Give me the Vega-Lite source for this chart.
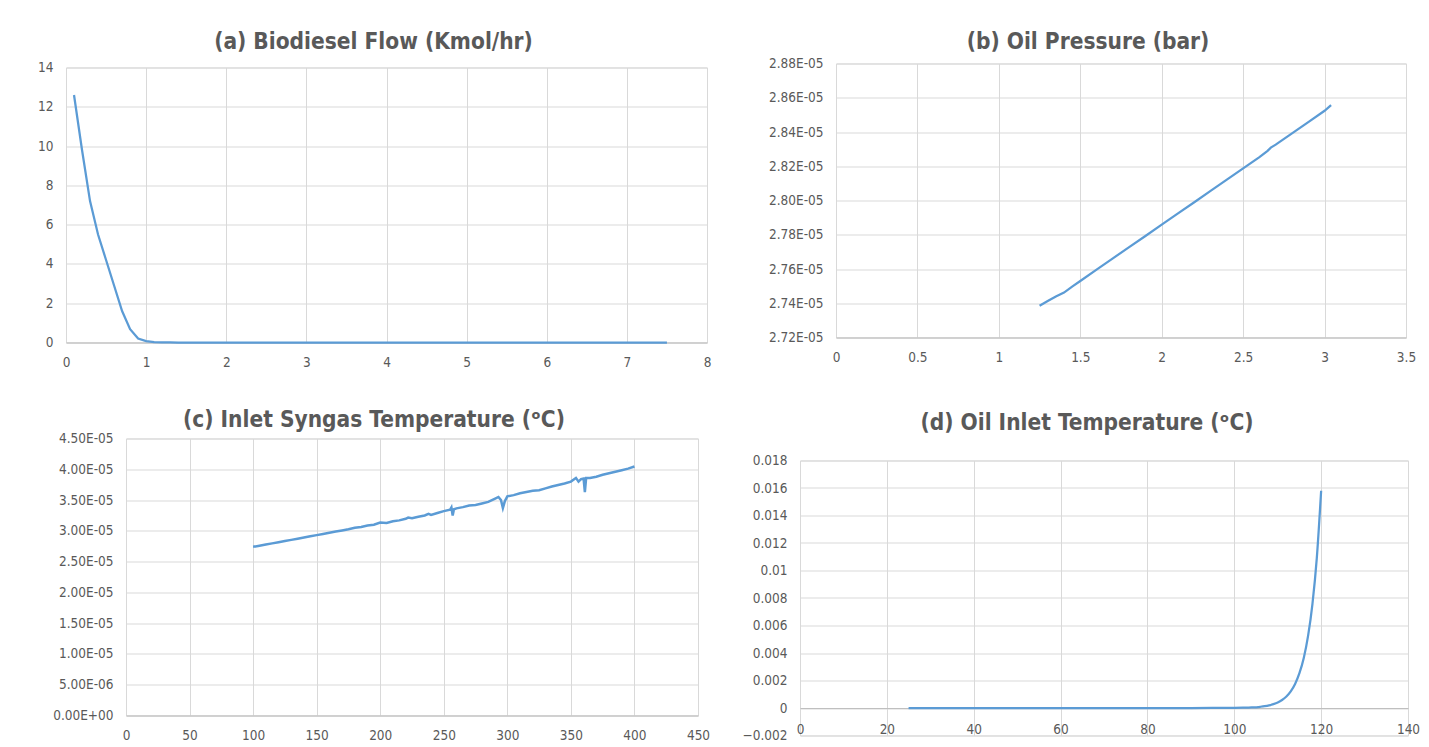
{
  "$schema": "https://vega.github.io/schema/vega-lite/v6.json",
  "background": "white",
  "padding": {"left": 9, "top": 9.5, "right": 0, "bottom": 0},
  "config": {
    "font": "Liberation Sans Narrow, DejaVu Sans Condensed, Liberation Sans",
    "view": {"stroke": "#d9d9d9"},
    "axis": {"gridColor": "#d9d9d9", "labelColor": "#595959", "labelFontSize": 13.5, "ticks": false, "title": null, "labelFont": "Liberation Sans Narrow, DejaVu Sans Condensed, Liberation Sans"},
    "axisX": {"domain": true, "domainColor": "#bfbfbf", "labelPadding": 13, "labelFlush": false},
    "axisY": {"domain": false, "labelPadding": 13},
    "title": {"font": "Liberation Sans Narrow, DejaVu Sans Condensed, Liberation Sans", "fontSize": 22.5, "fontWeight": "bold", "color": "#595959"},
    "line": {"color": "#5b9bd5", "strokeWidth": 2.25}
  },
  "datasets": {
    "empty": [],
    "biodiesel": [
      {"x": 0.1, "y": 12.6}, {"x": 0.2, "y": 9.8}, {"x": 0.3, "y": 7.2}, {"x": 0.4, "y": 5.5},
      {"x": 0.5, "y": 4.2}, {"x": 0.6, "y": 2.9}, {"x": 0.7, "y": 1.6}, {"x": 0.8, "y": 0.68},
      {"x": 0.9, "y": 0.2}, {"x": 1.0, "y": 0.07}, {"x": 1.1, "y": 0.02}, {"x": 1.2, "y": 0.005},
      {"x": 1.3, "y": 0.001}, {"x": 1.4, "y": 0}, {"x": 1.5, "y": 0}, {"x": 2.0, "y": 0},
      {"x": 2.5, "y": 0}, {"x": 3.0, "y": 0}, {"x": 3.5, "y": 0}, {"x": 4.0, "y": 0},
      {"x": 4.5, "y": 0}, {"x": 5.0, "y": 0}, {"x": 5.5, "y": 0}, {"x": 6.0, "y": 0},
      {"x": 6.5, "y": 0}, {"x": 7.0, "y": 0}, {"x": 7.5, "y": 0}
    ],
    "pressure": [
      {"x": 1.25, "y": 2.7385e-5}, {"x": 1.3, "y": 2.7413e-5}, {"x": 1.35, "y": 2.744e-5},
      {"x": 1.4, "y": 2.7462e-5}, {"x": 1.45, "y": 2.7497e-5}, {"x": 1.5, "y": 2.753e-5},
      {"x": 1.6, "y": 2.7596e-5}, {"x": 1.7, "y": 2.7662e-5}, {"x": 1.8, "y": 2.7728e-5},
      {"x": 1.9, "y": 2.7793e-5}, {"x": 2.0, "y": 2.7859e-5}, {"x": 2.1, "y": 2.7925e-5},
      {"x": 2.2, "y": 2.799e-5}, {"x": 2.3, "y": 2.8056e-5}, {"x": 2.4, "y": 2.8122e-5},
      {"x": 2.5, "y": 2.8188e-5}, {"x": 2.6, "y": 2.8253e-5}, {"x": 2.65, "y": 2.829e-5},
      {"x": 2.67, "y": 2.8309e-5}, {"x": 2.7, "y": 2.8326e-5}, {"x": 2.8, "y": 2.8392e-5},
      {"x": 2.9, "y": 2.8458e-5}, {"x": 3.0, "y": 2.8524e-5}, {"x": 3.04, "y": 2.8557e-5}
    ],
    "syngas": [
      {"x": 100, "y": 2.74e-5}, {"x": 105, "y": 2.758e-5}, {"x": 110, "y": 2.777e-5}, {"x": 115, "y": 2.796e-5},
      {"x": 120, "y": 2.815e-5}, {"x": 125, "y": 2.834e-5}, {"x": 130, "y": 2.853e-5}, {"x": 135, "y": 2.872e-5},
      {"x": 140, "y": 2.891e-5}, {"x": 145, "y": 2.911e-5}, {"x": 150, "y": 2.93e-5}, {"x": 155, "y": 2.949e-5},
      {"x": 160, "y": 2.968e-5}, {"x": 165, "y": 2.988e-5}, {"x": 170, "y": 3.007e-5}, {"x": 175, "y": 3.027e-5},
      {"x": 180, "y": 3.05e-5}, {"x": 185, "y": 3.062e-5}, {"x": 190, "y": 3.085e-5}, {"x": 195, "y": 3.1e-5},
      {"x": 200, "y": 3.135e-5}, {"x": 205, "y": 3.128e-5}, {"x": 210, "y": 3.155e-5}, {"x": 215, "y": 3.17e-5},
      {"x": 220, "y": 3.195e-5}, {"x": 222, "y": 3.215e-5}, {"x": 225, "y": 3.205e-5}, {"x": 230, "y": 3.23e-5},
      {"x": 235, "y": 3.25e-5}, {"x": 238, "y": 3.275e-5}, {"x": 240, "y": 3.258e-5}, {"x": 245, "y": 3.29e-5},
      {"x": 250, "y": 3.32e-5}, {"x": 255, "y": 3.345e-5}, {"x": 256, "y": 3.38e-5}, {"x": 257, "y": 3.25e-5},
      {"x": 258, "y": 3.35e-5}, {"x": 260, "y": 3.365e-5}, {"x": 265, "y": 3.385e-5}, {"x": 270, "y": 3.41e-5},
      {"x": 275, "y": 3.42e-5}, {"x": 280, "y": 3.445e-5}, {"x": 285, "y": 3.47e-5}, {"x": 290, "y": 3.52e-5},
      {"x": 293, "y": 3.55e-5}, {"x": 295, "y": 3.5e-5}, {"x": 296.5, "y": 3.37e-5}, {"x": 298, "y": 3.48e-5},
      {"x": 300, "y": 3.56e-5}, {"x": 305, "y": 3.58e-5}, {"x": 310, "y": 3.61e-5}, {"x": 315, "y": 3.63e-5},
      {"x": 320, "y": 3.65e-5}, {"x": 325, "y": 3.66e-5}, {"x": 330, "y": 3.69e-5}, {"x": 335, "y": 3.72e-5},
      {"x": 340, "y": 3.745e-5}, {"x": 345, "y": 3.77e-5}, {"x": 350, "y": 3.8e-5}, {"x": 352, "y": 3.83e-5},
      {"x": 354, "y": 3.86e-5}, {"x": 356, "y": 3.8e-5}, {"x": 358, "y": 3.84e-5}, {"x": 360, "y": 3.85e-5},
      {"x": 361, "y": 3.63e-5}, {"x": 362, "y": 3.86e-5}, {"x": 365, "y": 3.86e-5}, {"x": 370, "y": 3.88e-5},
      {"x": 375, "y": 3.91e-5}, {"x": 380, "y": 3.935e-5}, {"x": 385, "y": 3.96e-5}, {"x": 390, "y": 3.985e-5},
      {"x": 395, "y": 4.01e-5}, {"x": 400, "y": 4.045e-5}
    ],
    "oiltemp": [
      {"x": 25, "y": 0}, {"x": 30, "y": 0}, {"x": 35, "y": 0}, {"x": 40, "y": 0}, {"x": 45, "y": 0},
      {"x": 50, "y": 0}, {"x": 55, "y": 0}, {"x": 60, "y": 0}, {"x": 65, "y": 0}, {"x": 70, "y": 0},
      {"x": 75, "y": 0}, {"x": 80, "y": 0}, {"x": 85, "y": 0}, {"x": 90, "y": 0}, {"x": 95, "y": 0.000002},
      {"x": 100, "y": 0.00001}, {"x": 102, "y": 0.00002}, {"x": 104, "y": 0.00004}, {"x": 106, "y": 0.00009},
      {"x": 107, "y": 0.00013}, {"x": 108, "y": 0.00019}, {"x": 109, "y": 0.00028}, {"x": 110, "y": 0.0004},
      {"x": 111, "y": 0.00058}, {"x": 112, "y": 0.00084}, {"x": 113, "y": 0.00121}, {"x": 114, "y": 0.00175},
      {"x": 115, "y": 0.00253}, {"x": 116, "y": 0.00364}, {"x": 117, "y": 0.00526}, {"x": 118, "y": 0.00758},
      {"x": 119, "y": 0.0109}, {"x": 120, "y": 0.0158}
    ]
  },
  "spacing": 10,
  "hconcat": [
    {
      "spacing": 20,
      "vconcat": [
        {"width": 1, "height": 1, "view": {"stroke": null}, "data": {"name": "empty"}, "mark": "point"},
        {
          "spacing": 0,
          "hconcat": [
            {"width": 1, "height": 1, "view": {"stroke": null}, "data": {"name": "empty"}, "mark": "point"},
            {
              "title": {"text": "(a) Biodiesel Flow (Kmol/hr)", "offset": 6.8, "dx": -13},
              "width": 641, "height": 275,
              "data": {"name": "biodiesel"},
              "mark": {"type": "line"},
              "encoding": {
                "x": {"field": "x", "type": "quantitative", "scale": {"domain": [0, 8], "nice": false}, "axis": {"values": [0, 1, 2, 3, 4, 5, 6, 7, 8], "minExtent": 45}},
                "y": {"field": "y", "type": "quantitative", "scale": {"domain": [0, 14], "nice": false}, "axis": {"values": [0, 2, 4, 6, 8, 10, 12, 14], "minExtent": 55}}
              }
            }
          ]
        },
        {
          "spacing": 0,
          "hconcat": [
            {"width": 1, "height": 1, "view": {"stroke": null}, "data": {"name": "empty"}, "mark": "point"},
            {
              "title": {"text": "(c) Inlet Syngas Temperature (ᵒC)", "offset": 0, "dx": -38},
              "width": 572, "height": 277,
              "data": {"name": "syngas"},
              "mark": {"type": "line", "strokeWidth": 2.5},
              "encoding": {
                "x": {"field": "x", "type": "quantitative", "scale": {"domain": [0, 450], "nice": false}, "axis": {"values": [0, 50, 100, 150, 200, 250, 300, 350, 400, 450]}},
                "y": {"field": "y", "type": "quantitative", "scale": {"domain": [0, 4.5e-5], "nice": false}, "axis": {"values": [0, 0.5e-5, 1e-5, 1.5e-5, 2e-5, 2.5e-5, 3e-5, 3.5e-5, 4e-5, 4.5e-5], "labelExpr": "datum.value == 0 ? '0.00E+00' : (datum.value < 0.9e-5 ? format(datum.value*1e6, '.2f') + 'E-06' : format(datum.value*1e5, '.2f') + 'E-05')", "minExtent": 115}}
              }
            }
          ]
        }
      ]
    },
    {
      "spacing": 20,
      "vconcat": [
        {"width": 1, "height": 1, "view": {"stroke": null}, "data": {"name": "empty"}, "mark": "point"},
        {
          "spacing": 0,
          "hconcat": [
            {"width": 1, "height": 1, "view": {"stroke": null}, "data": {"name": "empty"}, "mark": "point"},
            {
              "title": {"text": "(b) Oil Pressure (bar)", "offset": 2.8, "dx": -33},
              "width": 570, "height": 274,
              "data": {"name": "pressure"},
              "mark": {"type": "line"},
              "encoding": {
                "x": {"field": "x", "type": "quantitative", "scale": {"domain": [0, 3.5], "nice": false}, "axis": {"values": [0, 0.5, 1, 1.5, 2, 2.5, 3, 3.5], "format": "~g", "minExtent": 52}},
                "y": {"field": "y", "type": "quantitative", "scale": {"domain": [2.72e-5, 2.88e-5], "nice": false, "zero": false}, "axis": {"values": [2.72e-5, 2.74e-5, 2.76e-5, 2.78e-5, 2.8e-5, 2.82e-5, 2.84e-5, 2.86e-5, 2.88e-5], "labelExpr": "format(datum.value*1e5, '.2f') + 'E-05'", "minExtent": 112}}
              }
            }
          ]
        },
        {
          "spacing": 0,
          "hconcat": [
            {"width": 1, "height": 1, "view": {"stroke": null}, "data": {"name": "empty"}, "mark": "point"},
            {
              "title": {"text": "(d) Oil Inlet Temperature (ᵒC)", "offset": 19.5, "dx": -17},
              "width": 608, "height": 275,
              "data": {"name": "oiltemp"},
              "mark": {"type": "line", "interpolate": "monotone"},
              "encoding": {
                "x": {"field": "x", "type": "quantitative", "scale": {"domain": [0, 140], "nice": false}, "axis": {"values": [0, 20, 40, 60, 80, 100, 120, 140], "offset": -27.5, "labelPadding": 14}},
                "y": {"field": "y", "type": "quantitative", "scale": {"domain": [-0.002, 0.018], "nice": false, "zero": false}, "axis": {"values": [-0.002, 0, 0.002, 0.004, 0.006, 0.008, 0.01, 0.012, 0.014, 0.016, 0.018], "format": ".3~f", "minExtent": 76.5}}
              }
            }
          ]
        }
      ]
    }
  ]
}
